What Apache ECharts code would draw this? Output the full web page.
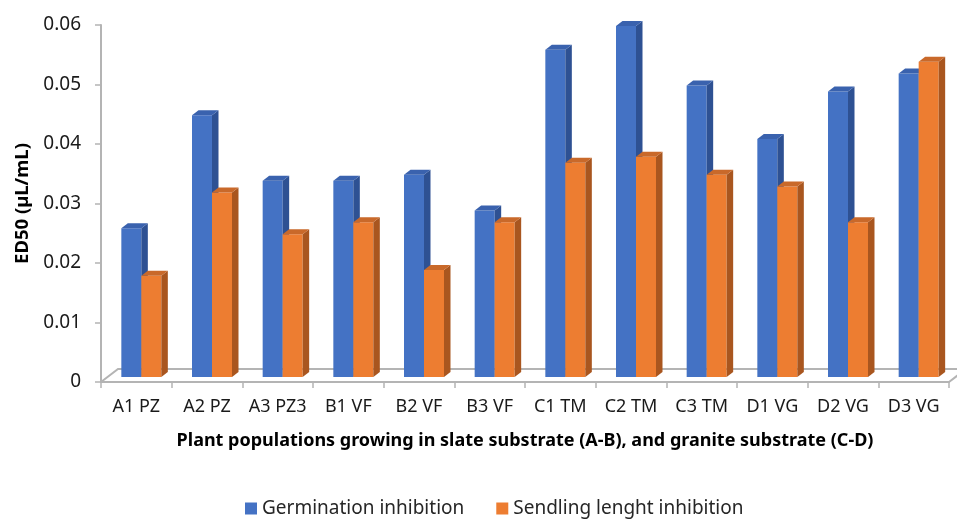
<!DOCTYPE html>
<html>
<head>
<meta charset="utf-8">
<script src="https://cdn.jsdelivr.net/npm/echarts@6/dist/echarts.min.js"></script>
<style>
  html, body { margin: 0; padding: 0; background: #ffffff; }
  #chart { width: 957px; height: 519px; }
</style>
</head>
<body>
<div id="chart"></div>
<script>
// ED50 values per plant population
const categories = ['A1 PZ', 'A2 PZ', 'A3 PZ3', 'B1 VF', 'B2 VF', 'B3 VF',
                    'C1 TM', 'C2 TM', 'C3 TM', 'D1 VG', 'D2 VG', 'D3 VG'];
const germination = [0.025, 0.044, 0.033, 0.033, 0.034, 0.028,
                     0.055, 0.059, 0.049, 0.040, 0.048, 0.051];
const seedlingLength = [0.017, 0.031, 0.024, 0.026, 0.018, 0.026,
                        0.036, 0.037, 0.034, 0.032, 0.026, 0.053];
const yTickLabels = ['0', '0.01', '0.02', '0.03', '0.04', '0.05', '0.06'];
const seriesNames = ['Germination inhibition', 'Sendling lenght inhibition'];

const FONT = '"Noto Sans", "Open Sans", sans-serif';
const palette = [
  { front: '#4472C4', side: '#2E5193', top: '#3A62AE' },
  { front: '#ED7D31', side: '#A9561F', top: '#C9692A' }
];

// Oblique-projection offsets for the pseudo-3D look
const FLOOR_DX = 17, FLOOR_DY = -13;   // depth of the floor
const SET_DX = 5, SET_DY = -5;         // bars sit set back from the front edge
const BAR_DX = 6.5, BAR_DY = -5;       // bar depth

function prismRenderer(slot) {
  const col = palette[slot];
  return function (params, api) {
    const ci = api.value(0);
    const v = api.value(1);
    const base = api.coord([ci, 0]);
    const top = api.coord([ci, v]);
    const band = api.size([1, 0])[0];
    const w = band * 0.283;
    const x0 = base[0] - w + slot * w + SET_DX;
    const x1 = x0 + w;
    const yb = base[1] + SET_DY;
    const yt = top[1] + SET_DY;
    return {
      type: 'group',
      children: [
        { type: 'rect', shape: { x: x0, y: yt, width: w, height: yb - yt },
          style: { fill: col.front } },
        { type: 'polygon', shape: { points: [[x1, yb], [x1 + BAR_DX, yb + BAR_DY],
            [x1 + BAR_DX, yt + BAR_DY], [x1, yt]] }, style: { fill: col.side } },
        { type: 'polygon', shape: { points: [[x0, yt], [x0 + BAR_DX, yt + BAR_DY],
            [x1 + BAR_DX, yt + BAR_DY], [x1, yt]] }, style: { fill: col.top } }
      ]
    };
  };
}

function floorRenderer(params, api) {
  const cs = params.coordSys;
  const xl = cs.x, xr = cs.x + cs.width, yf = cs.y + cs.height;
  const lineStyle = { stroke: '#B4B4B4', lineWidth: 2, fill: null };
  return {
    type: 'group',
    children: [
      { type: 'polyline', shape: { points: [[xl, yf], [xl + FLOOR_DX, yf + FLOOR_DY],
          [xr + FLOOR_DX, yf + FLOOR_DY], [xr, yf]] }, style: lineStyle }
    ]
  };
}

const chart = echarts.init(document.getElementById('chart'), null, { renderer: 'canvas' });

chart.setOption({
  animation: false,
  backgroundColor: '#ffffff',
  textStyle: { fontFamily: FONT },
  grid: { left: 101, right: 8, top: 25, bottom: 137, containLabel: false },
  legend: {
    data: seriesNames,
    top: 494,
    left: 240,
    icon: 'rect',
    itemWidth: 12,
    itemHeight: 12,
    itemGap: 32,
    textStyle: { fontFamily: FONT, fontSize: 19, color: '#262626' }
  },
  xAxis: {
    type: 'category',
    data: categories,
    name: 'Plant populations growing in slate substrate (A-B), and granite substrate (C-D)',
    nameLocation: 'middle',
    nameGap: 50,
    nameTextStyle: { fontFamily: FONT, fontSize: 18, fontWeight: 'bold', color: '#000000' },
    axisLine: { lineStyle: { color: '#B4B4B4', width: 2 } },
    axisTick: { show: true, length: 6, lineStyle: { color: '#B4B4B4', width: 1.5 } },
    axisLabel: { fontFamily: FONT, fontSize: 18, color: '#1a1a1a', margin: 16, interval: 0 },
    splitLine: { show: false }
  },
  yAxis: {
    type: 'value',
    min: 0,
    max: 0.06,
    interval: 0.01,
    name: 'ED50 (µL/mL)',
    nameLocation: 'middle',
    nameGap: 68,
    nameTextStyle: { fontFamily: FONT, fontSize: 18.5, fontWeight: 'bold', color: '#000000' },
    axisLine: { show: true, lineStyle: { color: '#B4B4B4', width: 2 } },
    axisTick: { show: true, length: 6, lineStyle: { color: '#B4B4B4', width: 1.5 } },
    axisLabel: {
      fontFamily: FONT, fontSize: 19, color: '#1a1a1a', margin: 20,
      formatter: function (val) { return yTickLabels[Math.round(val * 100)]; }
    },
    splitLine: { show: false }
  },
  series: [
    {
      type: 'custom',
      name: 'floor',
      renderItem: floorRenderer,
      data: [[0, 0]],
      clip: false,
      silent: true,
      z: 1
    },
    {
      type: 'custom',
      name: seriesNames[0],
      renderItem: prismRenderer(0),
      itemStyle: { color: palette[0].front },
      encode: { x: 0, y: 1 },
      data: germination.map((v, i) => [i, v]),
      clip: false,
      z: 2
    },
    {
      type: 'custom',
      name: seriesNames[1],
      renderItem: prismRenderer(1),
      itemStyle: { color: palette[1].front },
      encode: { x: 0, y: 1 },
      data: seedlingLength.map((v, i) => [i, v]),
      clip: false,
      z: 3
    }
  ]
});
</script>
</body>
</html>
